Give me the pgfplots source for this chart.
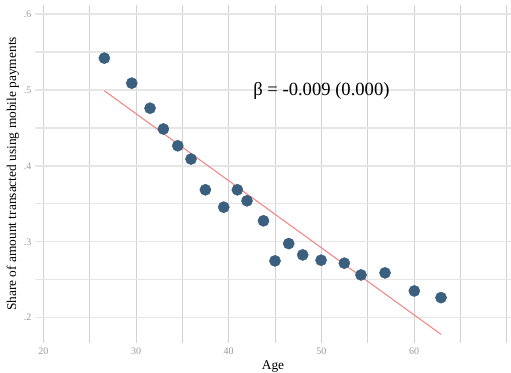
\documentclass[border=0pt]{standalone}
\usepackage{pgfplots}
\pgfplotsset{compat=1.18}
\usepackage{fontspec}
\setmainfont{Liberation Serif}
\definecolor{dotc}{HTML}{3B5F7E}
\definecolor{fitc}{HTML}{F28080}
\definecolor{hgrid}{HTML}{E6E6E6}
\definecolor{vgrid}{HTML}{D2D2D2}
\definecolor{tickc}{HTML}{9A9A9A}
\begin{document}
\begin{tikzpicture}[x=1pt,y=1pt]
\path[use as bounding box] (-35,-29) rectangle (476,338+5);
\begin{axis}[
  scale only axis,
  width=476pt, height=338pt,
  xmin=19.1, xmax=70.45,
  ymin=0.1666, ymax=0.612,
  axis line style={draw=none},
  tick style={draw=none},
  xtick={20,30,40,50,60},
  minor xtick={25,35,45,55,65,70},
  ytick={0.2,0.3,0.4,0.5,0.6},
  minor ytick={0.25,0.35,0.45,0.55},
  yticklabels={.2,.3,.4,.5,.6},
  xmajorgrids, xminorgrids, ymajorgrids, yminorgrids,
  x grid style={vgrid, line width=0.7pt},
  minor x grid style={vgrid, line width=0.7pt},
  y grid style={hgrid, line width=1.3pt},
  minor y grid style={hgrid, line width=1.3pt},
  /pgf/number format/assume math mode=true,
  ticklabel style={font=\fontsize{10}{11}\selectfont, text=tickc},
  xticklabel style={yshift=-1pt},
  xlabel={Age},
  ylabel={Share of amount transacted using mobile payments},
  label style={font=\fontsize{13.4}{15}\selectfont},
  xlabel style={yshift=0pt},
  ylabel style={yshift=-2pt},
  clip=false,
]
\addplot[fitc, line width=1pt] coordinates {(26.58,0.499) (62.9,0.178)};
\addplot[only marks, color=dotc, mark=*, mark size=5.6pt, mark options={fill=dotc, draw=dotc}] coordinates {
(26.58,0.542) (29.54,0.509) (31.51,0.476) (32.95,0.4486) (34.5,0.4265)
(35.93,0.409) (37.48,0.3685) (39.46,0.3456) (40.93,0.3685) (41.97,0.354)
(43.75,0.3276) (44.99,0.2748) (46.47,0.2976) (47.98,0.2827) (49.96,0.2757)
(52.47,0.2718) (54.27,0.2563) (56.86,0.259) (60.02,0.2352) (62.9,0.2264)
};
\node[font=\fontsize{18.6}{20}\selectfont, anchor=center] at (axis cs:50,0.4985) {β = -0.009 (0.000)};
\end{axis}
\end{tikzpicture}
\end{document}
